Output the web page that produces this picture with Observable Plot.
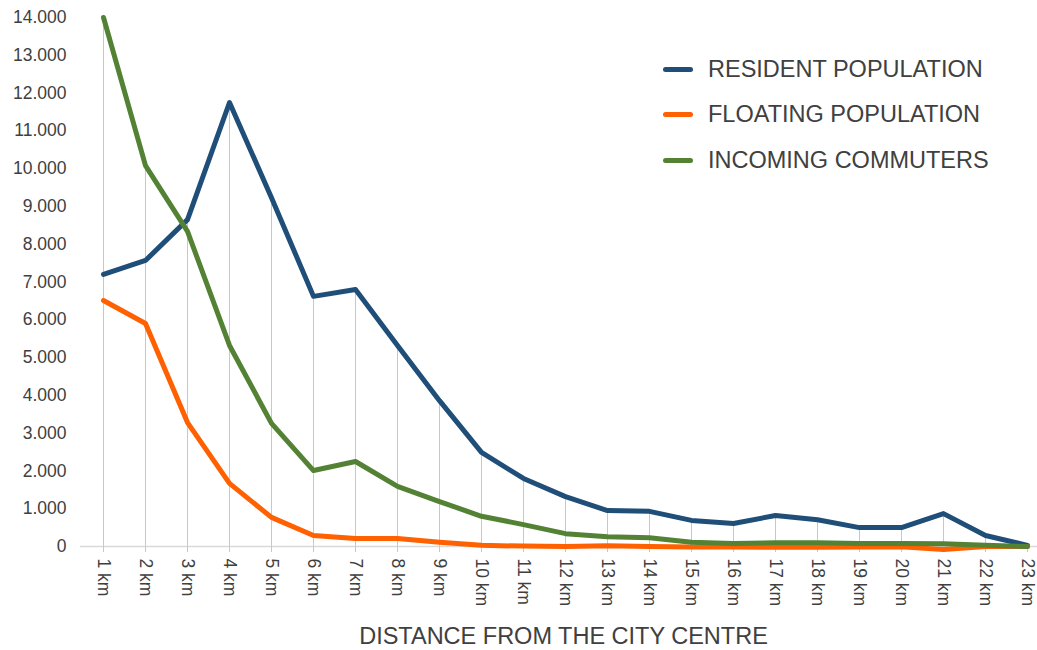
<!DOCTYPE html>
<html>
<head>
<meta charset="utf-8">
<script src="https://cdn.jsdelivr.net/npm/d3@7"></script>
<script src="https://cdn.jsdelivr.net/npm/@observablehq/plot@0.6"></script>
<style>
  html, body { margin: 0; padding: 0; background: #fff; }
  body { font-family: "Liberation Sans", Arial, sans-serif; }
  #wrap { position: relative; width: 1037px; height: 650px; }
  #legend { position: absolute; left: 663px; top: 46.5px; }
  .item { display: flex; align-items: center; height: 45.5px; font-size: 23.5px; color: #404040; }
  .sw { width: 30px; height: 5px; border-radius: 3px; margin-right: 15px; }
</style>
</head>
<body>
<div id="wrap"></div>
<script>
const distances = ["1 km","2 km","3 km","4 km","5 km","6 km","7 km","8 km","9 km","10 km","11 km","12 km","13 km","14 km","15 km","16 km","17 km","18 km","19 km","20 km","21 km","22 km","23 km"];
const resident  = [7200, 7570, 8650, 11750, 9230, 6620, 6800, 5320, 3860, 2490, 1800, 1320, 950, 930, 690, 610, 820, 710, 500, 500, 870, 290, 30];
const floating  = [6510, 5900, 3280, 1670, 770, 290, 210, 210, 110, 30, 10, 0, 20, 0, -10, -10, -20, -20, -10, -10, -80, 0, 0];
const commuters = [14000, 10080, 8340, 5320, 3260, 2010, 2250, 1590, 1190, 800, 580, 340, 260, 230, 110, 80, 100, 100, 80, 80, 70, 30, 0];
const seriesNames = ["RESIDENT POPULATION", "FLOATING POPULATION", "INCOMING COMMUTERS"];
const seriesColors = ["#1f4e79", "#ff6000", "#548235"];
const yTicks = d3.range(0, 14001, 1000);
const xTitle = "DISTANCE FROM THE CITY CENTRE";

const locale = d3.formatLocale({decimal: ",", thousands: ".", grouping: [3], currency: ["", "€"]});
const fmt = locale.format(",d");

const seriesValues = [resident, floating, commuters];
const rows = [];
seriesNames.forEach((s, i) => distances.forEach((d, j) => rows.push({series: s, distance: d, value: seriesValues[i][j]})));
const drops = distances.map((d, j) => ({distance: d, top: Math.max(resident[j], floating[j], commuters[j])}));

const chart = Plot.plot({
  width: 1037,
  height: 650,
  marginLeft: 80,
  marginRight: 0,
  marginTop: 17,
  marginBottom: 104,
  style: {fontFamily: "'Liberation Sans', Arial, sans-serif", fontSize: "17.5px", color: "#404040", background: "#fff"},
  x: {type: "point", domain: distances, range: [102, 1027], padding: 0, label: null},
  y: {domain: [0, 14000], label: null},
  color: {domain: seriesNames, range: seriesColors},
  marks: [
    Plot.ruleX(drops, {x: "distance", y1: 0, y2: "top", stroke: "#c8c8c8", strokeWidth: 1}),
    Plot.ruleY([0], {stroke: "#d9d9d9", strokeWidth: 1.3}),
    Plot.axisY({ticks: yTicks, tickFormat: fmt, tickSize: 0, tickPadding: 14, fontSize: 17.5, fill: "#404040", label: null}),
    Plot.axisX({tickSize: 6, stroke: "#c8c8c8", tickRotate: 90, tickPadding: 6, fontSize: 17.5, fill: "#404040", label: null}),
    Plot.line(rows, {x: "distance", y: "value", z: "series", stroke: "series", strokeWidth: 5, strokeLinejoin: "round", strokeLinecap: "round"}),
    Plot.text([xTitle], {frameAnchor: "bottom", dx: 4.5, dy: 97, fontSize: 23.5, fill: "#404040", text: d => d})
  ]
});
const wrap = document.getElementById("wrap");
wrap.appendChild(chart);

const legend = document.createElement("div");
legend.id = "legend";
seriesNames.forEach((s, i) => {
  const it = document.createElement("div");
  it.className = "item";
  const sw = document.createElement("div");
  sw.className = "sw";
  sw.style.background = seriesColors[i];
  const lab = document.createElement("span");
  lab.textContent = s;
  it.appendChild(sw); it.appendChild(lab);
  legend.appendChild(it);
});
wrap.appendChild(legend);
</script>
</body>
</html>
